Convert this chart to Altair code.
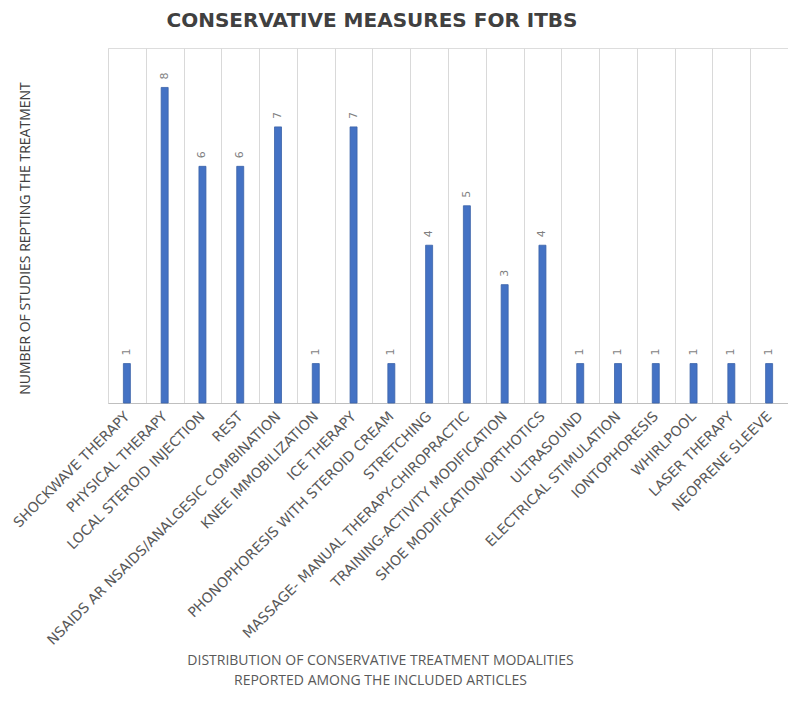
import altair as alt
import pandas as pd

categories = [
    "SHOCKWAVE THERAPY", "PHYSICAL THERAPY", "LOCAL STEROID INJECTION", "REST",
    "NSAIDS AR NSAIDS/ANALGESIC COMBINATION", "KNEE IMMOBILIZATION", "ICE THERAPY",
    "PHONOPHORESIS WITH STEROID CREAM", "STRETCHING",
    "MASSAGE- MANUAL THERAPY-CHIROPRACTIC", "TRAINING-ACTIVITY MODIFICATION",
    "SHOE MODIFICATION/ORTHOTICS", "ULTRASOUND", "ELECTRICAL STIMULATION",
    "IONTOPHORESIS", "WHIRLPOOL", "LASER THERAPY", "NEOPRENE SLEEVE",
]
counts = [1, 8, 6, 6, 7, 1, 7, 1, 4, 5, 3, 4, 1, 1, 1, 1, 1, 1]

df = pd.DataFrame({"cat": categories, "n": counts})

x_enc = alt.X(
    "cat:N",
    sort=categories,
    scale=alt.Scale(paddingInner=0, paddingOuter=0),
    axis=alt.Axis(
        title=["DISTRIBUTION OF CONSERVATIVE TREATMENT MODALITIES",
               "REPORTED AMONG THE INCLUDED ARTICLES"],
        titleFont="Open Sans", titleFontSize=14, titleFontWeight="normal",
        titleColor="#595959", titleX=272, titleY=250, titleBaseline="top",
        titleLineHeight=20, titleAnchor="middle", titleAlign="center",
        labelAngle=-45, labelAlign="right", labelBaseline="middle",
        labelFont="DejaVu Sans", labelFontSize=14, labelColor="#595959",
        labelPadding=11, labelLimit=400,
        ticks=False, tickBand="extent", grid=True, gridColor="#d9d9d9",
        domainColor="#bfbfbf",
    ),
)
y_enc = alt.Y(
    "n:Q",
    scale=alt.Scale(domain=[0, 9], nice=False),
    axis=alt.Axis(
        title="NUMBER OF STUDIES REPTING THE TREATMENT",
        titleFont="Open Sans", titleFontSize=14, titleFontWeight="normal",
        titleColor="#404040", titleX=-83, titleY=190, titleAngle=-90,
        titleAlign="center", titleBaseline="middle",
        labels=False, ticks=False, domain=False, grid=False,
    ),
)

base = alt.Chart(df).encode(x=x_enc, y=y_enc)

bars = base.mark_bar(size=7, color="#4472C4", stroke="#3a62a8", strokeWidth=0.8)
texts = base.mark_text(
    angle=270, align="left", baseline="middle", dx=8,
    font="DejaVu Sans", fontSize=11, color="#7f7f7f",
).encode(text="n:Q")

chart = (
    (bars + texts)
    .properties(
        width=680, height=355,
        padding={"left": 100, "top": 40, "right": 0, "bottom": 300},
        autosize=alt.AutoSizeParams(type="none"),
        title=alt.TitleParams(
            "CONSERVATIVE  MEASURES  FOR  ITBS",
            font="DejaVu Sans", fontSize=20, fontWeight="bold", color="#404040",
            anchor="middle", dx=-76, offset=17,
        ),
    )
    .configure_view(stroke=None)
    .configure(background="white")
)

chart.save("out.html", embed_options={"renderer": "svg", "actions": False})
